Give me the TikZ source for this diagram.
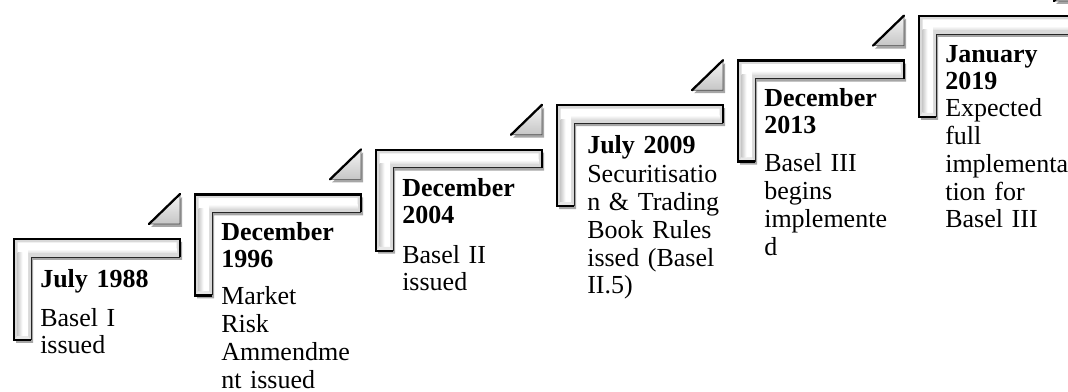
\documentclass[tikz,border=0pt]{standalone}
\usepackage{fontspec}
\setmainfont{Liberation Serif}
\usetikzlibrary{shadows}

\tikzset{
  softshadow/.style={drop shadow={shadow xshift=1.6pt, shadow yshift=-2.2pt, opacity=0.35, fill=black}},
  datetitle/.style={anchor=base west, inner sep=0pt, text width=130pt, align=left,
    font=\bfseries\fontsize{19.5}{19.6}\selectfont},
  eventtext/.style={anchor=base west, inner sep=0pt, text width=130pt, align=left,
    font=\fontsize{19.5}{20.8}\selectfont},
  % one stair: an L-shaped bevelled bar with a small triangle above its right end
  stair/.pic={
    \path[softshadow, top color=gray!8, bottom color=gray!45, draw=gray!60!black, line width=0.5pt]
      (135,-15) -- (166,-15) -- (166,-45) -- cycle;
    \draw[line width=1.7pt, line cap=round] (135,-15) -- (166,-45);
    \path[softshadow, fill=gray!30]
      (0,0) -- (166,0) -- (166,18) -- (17,18) -- (17,101) -- (0,101) -- cycle;
    \fill[white] (3.5,3.5) -- (162.5,3.5) -- (162.5,14) -- (14,14) -- (14,97) -- (3.5,97) -- cycle;
    \shade[left color=gray!40, right color=white] (3.5,14) rectangle (8.5,97);
    \shade[top color=white, bottom color=gray!25] (14,10) rectangle (162.5,14);
    \fill[gray!18] (3.5,97) -- (14,97) -- (17,101) -- (0,101) -- cycle;
    \draw[line width=0.7pt, draw=gray!30!black] (166,18) -- (17,18) -- (17,101);
    \draw[line width=1.7pt, line join=miter]
      (17,101) -- (0,101) -- (0,0) -- (166,0) -- (166,18);
  }
}

\begin{document}
\begin{tikzpicture}[x=0.75pt, y=-0.75pt]
  \useasboundingbox (0,0) rectangle (1068,392);
  \clip (0,0) rectangle (1068,392);

  % the six stairs, rising to the right
  \pic (s1) at (14,239)    {stair};
  \pic (s2) at (195,194.4) {stair};
  \pic (s3) at (376,149.8) {stair};
  \pic (s4) at (557,105.2) {stair};
  \pic (s5) at (738,60.6)  {stair};
  \pic (s6) at (919,16)    {stair};

  % dates and events
  \node[datetitle] (d1) at (40,287) {July 1988};
  \node[eventtext] (e1) at (40,326) {Basel I\\issued};

  \node[datetitle] (d2) at (221,241) {December\\1996};
  \node[eventtext] (e2) at (221,305) {Market\\Risk\\Ammendme\\nt issued};

  \node[datetitle] (d3) at (402,197) {December\\2004};
  \node[eventtext] (e3) at (402,263) {Basel II\\issued};

  \node[datetitle] (d4) at (587,154) {July 2009};
  \node[eventtext] (e4) at (587,183) {Securitisatio\\n \& Trading\\Book Rules\\issed (Basel\\II.5)};

  \node[datetitle] (d5) at (764,107) {December\\2013};
  \node[eventtext] (e5) at (764,172) {Basel III\\begins\\implemente\\d};

  \node[datetitle] (d6) at (945,63) {January\\2019};
  \node[eventtext] (e6) at (945,117) {Expected\\full\\implementa\\tion for\\Basel III};
\end{tikzpicture}
\end{document}
